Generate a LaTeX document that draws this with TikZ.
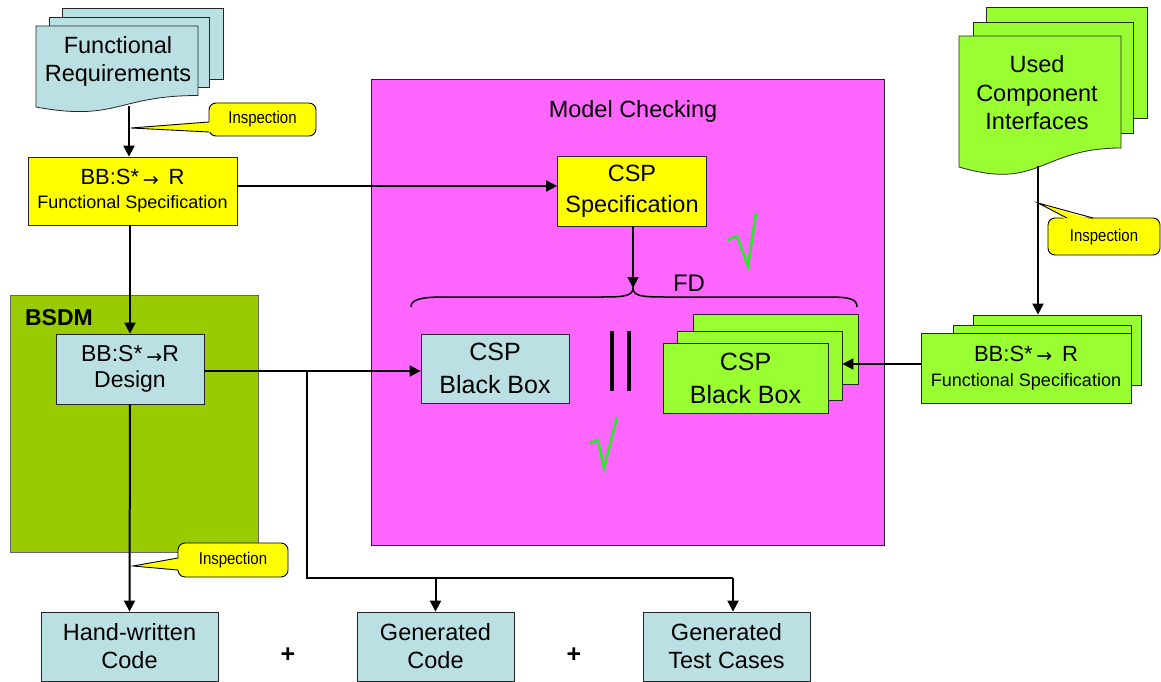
\documentclass[tikz,border=0pt]{standalone}
\usepackage{graphicx}
\usepackage{fontspec}
\setmainfont{Liberation Sans}
\newfontfamily\symfont{DejaVu Sans}
\usetikzlibrary{arrows.meta}

\definecolor{paleblue}{RGB}{187,224,227}
\definecolor{brightyellow}{RGB}{255,255,0}
\definecolor{mcpink}{RGB}{255,102,255}
\definecolor{lime}{RGB}{153,255,51}
\definecolor{olive}{RGB}{153,204,0}
\definecolor{tickgreen}{RGB}{40,235,40}

% small arrow used inside the BB:S* -> R labels
\newcommand\smallarr{\raisebox{-1.5pt}{\symfont\fontsize{19}{19}\selectfont →}}
% narrow lettering for the inspection callouts
\newcommand\insptext{\scalebox{0.88}[1]{Inspection}}

\begin{document}
\begin{tikzpicture}[x=1pt,y=-1pt,
  box/.style={draw=black!85, line width=0.8pt, inner sep=0pt, align=center,
              font=\fontsize{23.5}{28}\selectfont},
  sheet/.style={draw=black!85, line width=0.8pt},
  conn/.style={line width=2pt, black},
  arr/.style={conn, -{Triangle[length=11pt,width=11pt]}},
  calloutline/.style={draw=black, line width=0.9pt, fill=brightyellow},
  insp/.style={font=\fontsize{17}{20}\selectfont, inner sep=0pt},
  tick/.style={draw=tickgreen, line width=2.6pt},
  plain/.style={font=\fontsize{23.5}{28}\selectfont, inner sep=0pt, align=center},
]
\useasboundingbox (0,0) rectangle (1161,682);

% ---------- background regions ----------
\draw[fill=mcpink, draw=black!85, line width=0.8pt] (371,79) rectangle (884,545);
\node[plain] (mctitle) at (633,111) {Model Checking};
\draw[fill=olive, draw=black!60, line width=0.8pt] (10,295) rectangle (258,552);
\node[plain, font=\bfseries\fontsize{23}{28}\selectfont] (bsdmtitle) at (59,318) {BSDM};

% ---------- functional requirements (document stack) ----------
\draw[sheet, fill=paleblue] (62,8) rectangle (223,79);
\draw[sheet, fill=paleblue] (49,17) rectangle (209,87);
\draw[sheet, fill=paleblue] (36,26) -- (198,26) -- (198,95.5)
  .. controls (117,95.5) and (117,122) .. (36,107) -- cycle;
\node[plain] (freq) at (118,61) {Functional\\Requirements};
\coordinate (freqbot) at (129,106);

% ---------- used component interfaces (document stack) ----------
\draw[sheet, fill=lime] (986,7) rectangle (1147,118);
\draw[sheet, fill=lime] (973,22) rectangle (1133,133);
\draw[sheet, fill=lime] (959,36) -- (1121,36) -- (1121,148)
  .. controls (1040,148) and (1040,191) .. (959,167) -- cycle;
\node[plain, font=\fontsize{23.5}{28.5}\selectfont] (uci) at (1037,93) {Used\\Component\\Interfaces};
\coordinate (ucibot) at (1038,166);

% ---------- specification boxes ----------
\node[box, fill=brightyellow, minimum width=209pt, minimum height=68pt] (fspec) at (132.5,191)
  {{\fontsize{22}{26}\selectfont BB:S*\,\smallarr\, R}\\[-4pt]{\fontsize{18}{22}\selectfont Functional Specification}};
\node[box, fill=brightyellow, minimum width=149pt, minimum height=70pt,
      font=\fontsize{23.5}{31}\selectfont] (cspspec) at (632,191) {CSP\\Specification};
\node[box, fill=paleblue, minimum width=148pt, minimum height=70pt,
      font=\fontsize{23}{26}\selectfont] (design) at (130,369) {BB:S*\,\smallarr R\\Design};

% ---------- black boxes ----------
\node[box, fill=paleblue, minimum width=148pt, minimum height=69pt,
      font=\fontsize{25}{33}\selectfont] (cspbb) at (495,368.5) {CSP\\Black Box};
\node[box, fill=lime, minimum width=165pt, minimum height=70pt] (gbback) at (775.5,349) {};
\node[box, fill=lime, minimum width=165pt, minimum height=69pt] (gbmid) at (759.5,365.5) {};
\node[box, fill=lime, minimum width=165pt, minimum height=70pt,
      font=\fontsize{25}{33}\selectfont] (gbfront) at (745.5,378) {CSP\\Black Box};

% parallel composition bars
\draw[line width=3.5pt] (612,331) -- (612,391);
\draw[line width=3.5pt] (629,331) -- (629,391);

% ---------- component specification stack ----------
\node[box, fill=lime, minimum width=168pt, minimum height=70pt] (rsback) at (1057,350) {};
\node[box, fill=lime, minimum width=178pt, minimum height=70pt] (rsmid) at (1042,360) {};
\node[box, fill=lime, minimum width=210pt, minimum height=70pt] (rsfront) at (1026,368)
  {{\fontsize{22}{26}\selectfont BB:S*\,\smallarr\, R}\\[-3pt]{\fontsize{18}{22}\selectfont Functional Specification}};

% ---------- generated artefacts ----------
\node[box, fill=paleblue, minimum width=177pt, minimum height=69pt] (hand) at (129.5,646.5) {Hand-written\\Code};
\node[box, fill=paleblue, minimum width=157pt, minimum height=69pt] (gcode) at (435.5,646.5) {Generated\\Code};
\node[box, fill=paleblue, minimum width=167pt, minimum height=69pt] (gtest) at (726.5,646.5) {Generated\\Test Cases};
\node[plain, font=\bfseries\fontsize{25}{28}\selectfont] (plus1) at (288,655) {+};
\node[plain, font=\bfseries\fontsize{25}{28}\selectfont] (plus2) at (574,655) {+};

% ---------- refinement brace ----------
\coordinate (bracetip) at (633,288);
\draw[line width=1.5pt] (411,307) .. controls (411,299) and (422,297) .. (445,297) -- (602,297)
  .. controls (624,297) and (633,296) .. (bracetip)
  .. controls (633,296) and (642,297) .. (664,297) -- (828,297)
  .. controls (850,297) and (857,299) .. (857,307);
\node[plain, font=\fontsize{24}{28}\selectfont] (fd) at (689,283) {FD};

% ---------- connectors ----------
\coordinate (specrow) at (0,186);
\coordinate (bbrow) at (0,364);
\coordinate (split) at (307,371);
\coordinate (bus) at (307,578);
\coordinate (testdrop) at (733,578);

\draw[arr] (freqbot) -- (freqbot |- fspec.north);
\draw[arr] (fspec.east |- specrow) -- (cspspec.west |- specrow);
\draw[arr] (cspspec.south -| bracetip) -- (bracetip);
\draw[arr] (design.north |- fspec.south) -- (design.north);
\draw[arr] (design.east |- split) -- (cspbb.west |- split);
\draw[arr] (design.south) -- (hand.north);
\draw[conn] (split) -- (bus) -- (testdrop);
\draw[arr] (testdrop) -- (testdrop |- gtest.north);
\draw[arr] (bus -| gcode.north) -- (gcode.north);
\draw[arr] (ucibot) -- (ucibot |- rsback.north);
\draw[arr] (rsfront.west |- bbrow) -- (gbmid.east |- bbrow);

% ---------- inspection callouts ----------
\draw[calloutline, rounded corners=7pt] (209,103) rectangle (316,136);
\fill[brightyellow] (131,128) -- (211,122) -- (211,132) -- cycle;
\draw[line width=0.9pt] (209,122) -- (131,128) -- (209,132);
\node[insp] (insp1) at (262.5,119.5) {\insptext};

\draw[calloutline, rounded corners=7pt] (1048,218) rectangle (1160,255);
\fill[brightyellow] (1038,203) -- (1067,220) -- (1093,220) -- cycle;
\draw[line width=0.9pt] (1067,218) -- (1038,203) -- (1093,218);
\node[insp] (insp2) at (1104,237.5) {\insptext};

\draw[calloutline, rounded corners=7pt] (178,543) rectangle (288,577);
\fill[brightyellow] (133,566) -- (180,558) -- (180,570) -- cycle;
\draw[line width=0.9pt] (178,558) -- (133,566) -- (178,570);
\node[insp] (insp3) at (233,560) {\insptext};

% ---------- check marks ----------
\draw[tick] (728,240) -- (737,236) -- (748,266) -- (756,213);
\draw[tick] (590,443) -- (598,440) -- (604,468) -- (617,417);
\end{tikzpicture}
\end{document}
